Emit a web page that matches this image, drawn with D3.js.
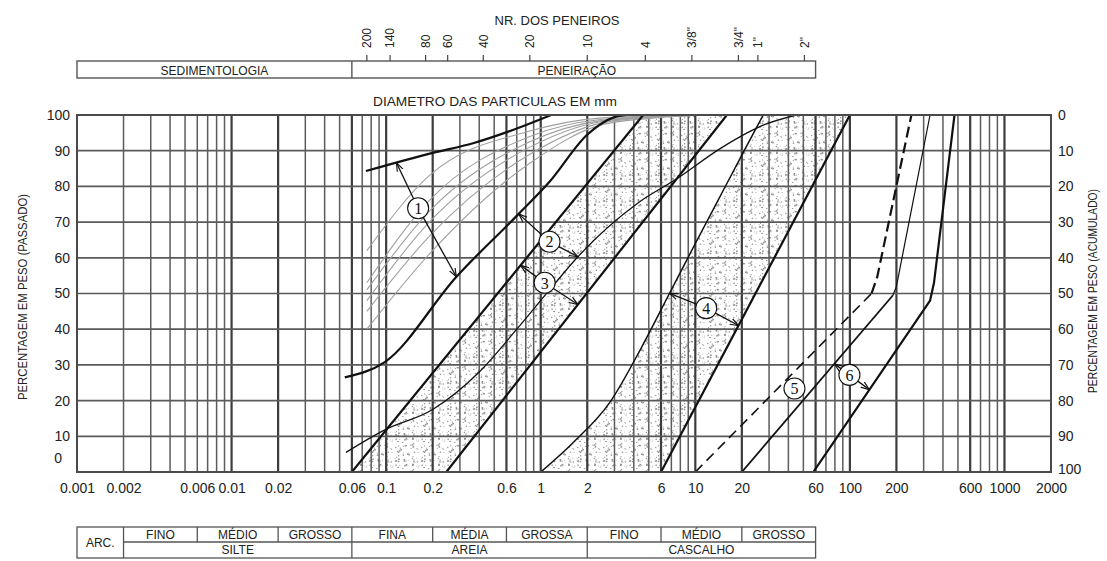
<!DOCTYPE html>
<html>
<head>
<meta charset="utf-8">
<script src="https://cdn.jsdelivr.net/npm/d3@7"></script>
<style>
  body { margin: 0; background: #fff; }
  text { font-family: "Liberation Sans", Arial, sans-serif; fill: #222; }
  .num { font-family: "Liberation Serif", "Times New Roman", serif; fill: #111; }
</style>
</head>
<body>
<svg id="chart" width="1107" height="561"></svg>
<script>
// ---- axis values ----------------------------------------------------------
const diameterTicks = [0.001, 0.002, 0.006, 0.01, 0.02, 0.06, 0.1, 0.2, 0.6, 1, 2, 6, 10, 20, 60, 100, 200, 600, 1000, 2000];
const passingTicks = [0, 10, 20, 30, 40, 50, 60, 70, 80, 90, 100];
const boldDiameters = [0.01, 0.02, 0.06, 0.1, 0.2, 0.6, 1, 2, 6, 10, 20, 60, 100, 200, 600, 1000];

// sieve numbers and their openings (mm)
const sieveNames = ["200", "140", "80", "60", "40", "20", "10", "4", "3/8\"", "3/4\"", "1\"", "2\""];
const sieveOpenings = [0.075, 0.106, 0.18, 0.25, 0.425, 0.85, 2.0, 4.75, 9.5, 19.0, 25.4, 50.8];

// size classes
const classNames = ["FINO", "MÉDIO", "GROSSO", "FINA", "MÉDIA", "GROSSA", "FINO", "MÉDIO", "GROSSO"];
const classBounds = [0.002, 0.006, 0.02, 0.06, 0.2, 0.6, 2, 6, 20, 60];
const groupNames = ["SILTE", "AREIA", "CASCALHO"];
const groupBounds = [0.002, 0.06, 2, 60];

// ---- grading curves: [diameter mm, % passing] -------------------------------
const curve1Upper = [[0.074, 84.3], [0.2, 89.4], [0.365, 92.1], [0.66, 95.8], [1.17, 100]];
const curve1Lower = [[0.054, 26.5], [0.098, 30.8], [0.285, 54.7], [0.72, 72.3], [1.14, 81.3], [1.99, 94.4], [3.0, 99.4], [3.6, 100]];
const curve2Lower = [[0.055, 5.5], [0.098, 11.8], [0.2, 17.5], [0.4, 28], [0.7, 40], [1.14, 51], [1.74, 60.3], [4.3, 75.5], [7.5, 82], [15, 91], [28, 97.3], [45, 100]];
const curve3Upper = [[0.06, 0], [4.6, 100]];
const curve3Lower = [[0.245, 0], [16, 100]];
const curve4Upper = [[1.0, 0], [1.6, 8], [2.8, 19.5], [4.5, 35], [6.8, 50], [10, 64], [15, 78.5], [21, 90.5], [27.5, 100]];
const curve4Lower = [[6, 0], [100, 100]];
const curve5Upper = [[10, 0], [138, 50], [150, 54.5], [250, 100]];
const curve5Lower = [[20, 0], [190, 49.5], [200, 52], [330, 100]];
const curve6Lower = [[58, 0], [330, 48], [350, 53], [475, 100]];

// fine soils (zone 1), % passing at these diameters
const fineDiameters = [0.075, 0.19, 0.85, 2.5, 6, 12];
const fineSoilA = [62, 83, 95.5, 99.2, 99.8, 100];
const fineSoilB = [53, 76, 94, 98.8, 99.7, 100];
const fineSoilC = [51, 73, 92.5, 98.5, 99.6, 100];
const fineSoilD = [48, 70, 91, 98.2, 99.5, 100];
const fineSoilE = [45, 66, 89, 97.8, 99.5, 100];
const fineSoilF = [40, 61, 86.5, 97.3, 99.3, 100];

// zone markers: label, centre [diameter, %], arrow targets [curve, diameter]
const zoneLabels = ["1", "2", "3", "4", "5", "6"];
const zoneCentres = [[0.161, 73.9], [1.14, 64.5], [1.06, 53.0], [11.76, 45.9], [43.8, 23.4], [99.3, 27.2]];
const zoneArrows = [
  [[curve1Upper, 0.1166], [curve1Lower, 0.2847]],
  [[curve1Lower, 0.72], [curve2Lower, 1.74]],
  [[curve3Upper, 0.74], [curve3Lower, 1.74]],
  [[curve4Upper, 6.81], [curve4Lower, 19.03]],
  [],
  [[curve5Lower, 79.4], [curve6Lower, 133.7]]
];

// ---- layout ----------------------------------------------------------------
const svg = d3.select("#chart");
const x = d3.scaleLog().domain([0.001, 2000]).range([77, 1051]);
const y = d3.scaleLinear().domain([0, 100]).range([472, 115]);

const defs = svg.append("defs");
defs.append("clipPath").attr("id", "plotClip")
  .append("rect").attr("x", 77).attr("y", 115).attr("width", 974).attr("height", 357);

// speckled fill for the sand / gravel zones
const pat = defs.append("pattern").attr("id", "speckle")
  .attr("patternUnits", "userSpaceOnUse").attr("width", 26).attr("height", 26);
let seed = 7;
const rnd = () => { seed = (seed * 16807) % 2147483647; return seed / 2147483647; };
for (let i = 0; i < 58; i++) {
  pat.append("circle").attr("cx", rnd() * 26).attr("cy", rnd() * 26)
    .attr("r", 0.45 + rnd() * 0.5).attr("fill", "#7a7a7a").attr("opacity", 0.8);
}

defs.append("marker").attr("id", "head")
  .attr("viewBox", "0 -5 10 10").attr("refX", 9.5).attr("refY", 0)
  .attr("markerUnits", "userSpaceOnUse").attr("markerWidth", 9).attr("markerHeight", 9)
  .attr("orient", "auto")
  .append("path").attr("d", "M0,-3.5L9.5,0L0,3.5").attr("fill", "none")
  .attr("stroke", "#111").attr("stroke-width", 1.3);

const plot = svg.append("g").attr("clip-path", "url(#plotClip)");

const smooth = d3.line().x(d => x(d[0])).y(d => y(d[1])).curve(d3.curveMonotoneX);
const straight = d3.line().x(d => x(d[0])).y(d => y(d[1]));

// zones 3 and 4 speckled
function band(upper, lower, gen) {
  const rev = lower.slice().reverse().map(d => `L${x(d[0])},${y(d[1])}`).join("");
  return gen(upper) + rev + "Z";
}
plot.append("path").attr("d", band(curve3Upper, curve3Lower, straight)).attr("fill", "url(#speckle)");
plot.append("path").attr("d", band(curve4Upper, curve4Lower, smooth)).attr("fill", "url(#speckle)");

// grid
const vLines = [];
for (let k = -3; k <= 3; k++) for (let m = 1; m <= 9; m++) {
  const v = +(m * Math.pow(10, k)).toPrecision(6);
  if (v > 0.001 && v < 2000) vLines.push(v);
}
plot.selectAll("line.v").data(vLines).join("line").attr("class", "v")
  .attr("x1", d => x(d)).attr("x2", d => x(d)).attr("y1", 115).attr("y2", 472)
  .attr("stroke", d => boldDiameters.includes(d) ? "#3c3c3c" : "#5c5c5c")
  .attr("stroke-width", d => boldDiameters.includes(d) ? 2.2 : 1.5);
plot.selectAll("line.h").data(passingTicks.slice(1, -1)).join("line").attr("class", "h")
  .attr("x1", 77).attr("x2", 1051).attr("y1", d => y(d)).attr("y2", d => y(d))
  .attr("stroke", "#5a5a5a").attr("stroke-width", 1.7);

// fine soils
const fineSoils = [fineSoilA, fineSoilB, fineSoilC, fineSoilD, fineSoilE, fineSoilF];
plot.selectAll("path.fine").data(fineSoils).join("path").attr("class", "fine")
  .attr("d", s => smooth(fineDiameters.map((d, i) => [d, s[i]])))
  .attr("fill", "none").attr("stroke", "#a0a0a0").attr("stroke-width", 1.1);

// envelopes
const envelopes = [
  { pts: curve1Upper, gen: smooth, w: 2.2 },
  { pts: curve1Lower, gen: smooth, w: 2.2 },
  { pts: curve2Lower, gen: smooth, w: 1.3 },
  { pts: curve3Upper, gen: straight, w: 2.2 },
  { pts: curve3Lower, gen: straight, w: 2.2 },
  { pts: curve4Upper, gen: smooth, w: 1.5 },
  { pts: curve4Lower, gen: straight, w: 2.2 },
  { pts: curve5Upper.slice(0, 2), gen: straight, w: 1.6, dash: "10,6" },
  { pts: curve5Upper.slice(1), gen: straight, w: 2.2, dash: "11,5" },
  { pts: curve5Lower.slice(0, 2), gen: straight, w: 1.8 },
  { pts: curve5Lower.slice(1), gen: straight, w: 1.2 },
  { pts: curve6Lower, gen: straight, w: 2.2 }
];
plot.selectAll("path.env").data(envelopes).join("path").attr("class", "env")
  .attr("d", e => e.gen(e.pts)).attr("fill", "none").attr("stroke", "#111")
  .attr("stroke-width", e => e.w).attr("stroke-dasharray", e => e.dash || null)
  .attr("stroke-linejoin", "round");

// frame
svg.append("rect").attr("x", 77).attr("y", 115).attr("width", 974).attr("height", 357)
  .attr("fill", "none").attr("stroke", "#4a4a4a").attr("stroke-width", 2);

// zone markers
function onCurve(pts, d) {
  const ld = Math.log10(d);
  for (let i = 0; i < pts.length - 1; i++) {
    const a = Math.log10(pts[i][0]), b = Math.log10(pts[i + 1][0]);
    if (ld >= a && ld <= b) return pts[i][1] + (pts[i + 1][1] - pts[i][1]) * (ld - a) / (b - a);
  }
  return pts[pts.length - 1][1];
}
const R = 10.5;
zoneLabels.forEach((lab, i) => {
  const cx = x(zoneCentres[i][0]), cy = y(zoneCentres[i][1]);
  zoneArrows[i].forEach(([pts, d]) => {
    const tx = x(d), ty = y(onCurve(pts, d));
    const ang = Math.atan2(ty - cy, tx - cx);
    svg.append("line").attr("x1", cx + R * Math.cos(ang)).attr("y1", cy + R * Math.sin(ang))
      .attr("x2", tx).attr("y2", ty).attr("stroke", "#111").attr("stroke-width", 1.3)
      .attr("marker-end", "url(#head)");
  });
  svg.append("circle").attr("cx", cx).attr("cy", cy).attr("r", R)
    .attr("fill", "#fff").attr("stroke", "#111").attr("stroke-width", 1.1);
  svg.append("text").attr("class", "num").attr("x", cx).attr("y", cy).attr("dy", "0.36em")
    .attr("text-anchor", "middle").attr("font-size", 16).text(lab);
});

// ---- axes ------------------------------------------------------------------
const xAxis = svg.append("g").attr("transform", "translate(0,480)")
  .call(d3.axisBottom(x).tickValues(diameterTicks).tickSize(0).tickFormat(d => String(d)));
xAxis.select(".domain").remove();
xAxis.selectAll("text").attr("font-size", 14).attr("fill", "#222").attr("dy", "0.71em")
  .style("font-family", "Liberation Sans, Arial, sans-serif");

const yLeft = svg.append("g").attr("transform", "translate(70,0)")
  .call(d3.axisLeft(y).tickValues(passingTicks).tickSize(0).tickPadding(0));
yLeft.select(".domain").remove();
yLeft.selectAll("text").attr("font-size", 14).attr("fill", "#222")
  .style("font-family", "Liberation Sans, Arial, sans-serif")
  .attr("transform", d => d === 0 ? "translate(-8,-14)" : null);

const yRight = svg.append("g").attr("transform", "translate(1058,0)")
  .call(d3.axisRight(y).tickValues(passingTicks).tickSize(0).tickPadding(0)
    .tickFormat(d => String(100 - d)));
yRight.select(".domain").remove();
yRight.selectAll("text").attr("font-size", 14).attr("fill", "#222")
  .style("font-family", "Liberation Sans, Arial, sans-serif")
  .attr("transform", d => d === 0 ? "translate(0,-3)" : null);

svg.append("text").attr("transform", "translate(27,297) rotate(-90)")
  .attr("text-anchor", "middle").attr("font-size", 13)
  .attr("textLength", 206).attr("lengthAdjust", "spacingAndGlyphs")
  .text("PERCENTAGEM EM PESO (PASSADO)");
svg.append("text").attr("transform", "translate(1097,291) rotate(-90)")
  .attr("text-anchor", "middle").attr("font-size", 13)
  .attr("textLength", 204).attr("lengthAdjust", "spacingAndGlyphs")
  .text("PERCENTAGEM EM PESO (ACUMULADO)");

// ---- header: sieves --------------------------------------------------------
svg.append("text").attr("x", 557).attr("y", 25).attr("text-anchor", "middle")
  .attr("font-size", 13).text("NR. DOS PENEIROS");
svg.append("text").attr("x", 495).attr("y", 106).attr("text-anchor", "middle")
  .attr("font-size", 13).attr("textLength", 244).attr("lengthAdjust", "spacingAndGlyphs")
  .text("DIAMETRO DAS PARTICULAS EM mm");

const hdr = svg.append("g");
hdr.append("rect").attr("x", x(0.001)).attr("y", 61).attr("width", x(60) - x(0.001)).attr("height", 17)
  .attr("fill", "none").attr("stroke", "#555").attr("stroke-width", 1.4);
hdr.append("line").attr("x1", x(0.06)).attr("x2", x(0.06)).attr("y1", 61).attr("y2", 78)
  .attr("stroke", "#555").attr("stroke-width", 1.4);
hdr.append("text").attr("x", (x(0.001) + x(0.06)) / 2).attr("y", 74.5).attr("text-anchor", "middle")
  .attr("font-size", 12).text("SEDIMENTOLOGIA");
hdr.append("text").attr("x", (x(0.06) + x(60)) / 2 - 7).attr("y", 74.5).attr("text-anchor", "middle")
  .attr("font-size", 12).text("PENEIRAÇÃO");
hdr.selectAll("line.sv").data(sieveOpenings).join("line").attr("class", "sv")
  .attr("x1", d => x(d)).attr("x2", d => x(d)).attr("y1", 55).attr("y2", 61)
  .attr("stroke", "#444").attr("stroke-width", 1.2);
hdr.selectAll("text.sv").data(sieveOpenings).join("text").attr("class", "sv")
  .attr("transform", d => `translate(${x(d)},48) rotate(-90)`)
  .attr("dy", "0.36em").attr("font-size", 12)
  .text((d, i) => sieveNames[i]);

// ---- footer: size classes --------------------------------------------------
const tb = svg.append("g");
const tTop = 527, tMid = 542, tBot = 558;
tb.append("rect").attr("x", x(0.001)).attr("y", tTop).attr("width", x(60) - x(0.001)).attr("height", tBot - tTop)
  .attr("fill", "none").attr("stroke", "#555").attr("stroke-width", 1.3);
tb.append("line").attr("x1", x(0.002)).attr("x2", x(60)).attr("y1", tMid).attr("y2", tMid)
  .attr("stroke", "#555").attr("stroke-width", 1.3);
tb.selectAll("line.cb").data(classBounds.slice(1, -1)).join("line").attr("class", "cb")
  .attr("x1", d => x(d)).attr("x2", d => x(d)).attr("y1", tTop)
  .attr("y2", d => groupBounds.includes(d) ? tBot : tMid)
  .attr("stroke", "#555").attr("stroke-width", 1.3);
tb.append("line").attr("x1", x(0.002)).attr("x2", x(0.002)).attr("y1", tTop).attr("y2", tBot)
  .attr("stroke", "#555").attr("stroke-width", 1.3);
tb.append("text").attr("x", (x(0.001) + x(0.002)) / 2).attr("y", (tTop + tBot) / 2).attr("dy", "0.36em")
  .attr("text-anchor", "middle").attr("font-size", 12).text("ARC.");
tb.selectAll("text.cn").data(classNames).join("text").attr("class", "cn")
  .attr("x", (d, i) => (x(classBounds[i]) + x(classBounds[i + 1])) / 2)
  .attr("y", (tTop + tMid) / 2).attr("dy", "0.36em").attr("text-anchor", "middle")
  .attr("font-size", 12).text(d => d);
tb.selectAll("text.gn").data(groupNames).join("text").attr("class", "gn")
  .attr("x", (d, i) => (x(groupBounds[i]) + x(groupBounds[i + 1])) / 2)
  .attr("y", (tMid + tBot) / 2).attr("dy", "0.36em").attr("text-anchor", "middle")
  .attr("font-size", 12).text(d => d);
</script>
</body>
</html>
